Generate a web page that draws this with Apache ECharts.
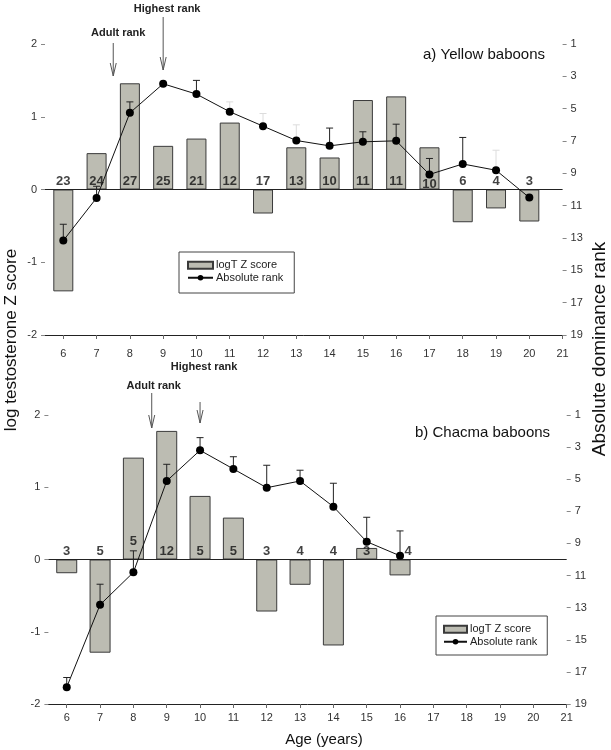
<!DOCTYPE html>
<html>
<head>
<meta charset="utf-8">
<script src="https://cdn.jsdelivr.net/npm/echarts@6/dist/echarts.min.js"></script>
<style>
html,body{margin:0;padding:0;background:#fff;}
#c{width:611px;height:750px;}
</style>
</head>
<body>
<div id="c"></div>
<script>
// ---- Data ----
const X_TICKS = [6,7,8,9,10,11,12,13,14,15,16,17,18,19,20,21];
const Z_TICKS = [-2,-1,0,1,2];
const RANK_TICKS = [1,3,5,7,9,11,13,15,17,19];

// a) Yellow baboons
const AGE_A = [6,7,8,9,10,11,12,13,14,15,16,17,18,19,20];
const Z_A = [-1.40, 0.50, 1.46, 0.60, 0.70, 0.92, -0.33, 0.58, 0.44, 1.23, 1.28, 0.58, -0.45, -0.26, -0.44];
const RANK_A = [13.16, 10.52, 5.26, 3.46, 4.10, 5.19, 6.08, 6.97, 7.30, 7.05, 6.99, 9.07, 8.42, 8.81, 10.50];
const ERR_TOP_A = [12.15, 9.8, 4.58, null, 3.25, null, null, null, 6.2, 6.43, 5.96, 8.08, 6.78, null, null];
const ERR_TOP_FAINT_A = [null, null, null, null, null, 4.58, 5.3, 6.0, null, null, null, null, null, 7.57, null];
const N_A = [23,24,27,25,21,12,17,13,10,11,11,10,6,4,3];

// b) Chacma baboons
const AGE_B = [6,7,8,9,10,11,12,13,14,15,16];
const Z_B = [-0.19, -1.29, 1.41, 1.78, 0.88, 0.58, -0.72, -0.35, -1.19, 0.16, -0.22];
const RANK_B = [17.95, 12.82, 10.80, 5.11, 3.20, 4.36, 5.53, 5.11, 6.71, 8.89, 9.77];
const ERR_TOP_B = [17.35, 11.54, 9.46, 4.07, 2.41, 3.60, 4.13, 4.44, 5.25, 7.37, 8.22];
const N_B = [3,5,5,12,5,5,3,4,4,3,4];

// ---- Style ----
const FONT = "'Liberation Sans', Arial, sans-serif";
const TICK_FONT = "'Liberation Sans Narrow', 'Arial Narrow', 'Liberation Sans', Arial, sans-serif";
const BAR_FILL = '#bcbcb2';
const BAR_EDGE = '#3a3a3a';

const chart = echarts.init(document.getElementById('c'), null, {renderer: 'canvas'});

function xAxis(gi, margin) {
  return {
    type: 'value', gridIndex: gi, min: 5.45, max: 21,
    axisLine: {onZero: false, lineStyle: {color: '#222', width: 1}},
    axisTick: {show: true, customValues: X_TICKS, length: 4, lineStyle: {color: '#666'}},
    axisLabel: {customValues: X_TICKS, margin: margin, fontSize: 11, color: '#333', fontFamily: TICK_FONT},
    splitLine: {show: false}
  };
}
function zAxis(gi) {
  return {
    type: 'value', gridIndex: gi, min: -2, max: 2, interval: 1,
    axisLine: {show: false},
    axisTick: {show: true, length: 4, lineStyle: {color: '#888'}},
    axisLabel: {customValues: Z_TICKS, margin: 8, fontSize: 11, color: '#333', fontFamily: TICK_FONT},
    splitLine: {show: false}
  };
}
function rankAxis(gi) {
  return {
    type: 'value', gridIndex: gi, position: 'right', inverse: true, min: 1, max: 19, interval: 2,
    axisLine: {show: false},
    axisTick: {show: true, customValues: RANK_TICKS, length: 4, lineStyle: {color: '#888'}},
    axisLabel: {customValues: RANK_TICKS, margin: 8, fontSize: 11, color: '#333', fontFamily: TICK_FONT},
    splitLine: {show: false}
  };
}

function errRender(color, half) {
  return function (params, api) {
    const x = api.value(0), r = api.value(1), t = api.value(2);
    const p1 = api.coord([x, r]);
    const p2 = api.coord([x, t]);
    return {
      type: 'group',
      children: [
        {type: 'line', shape: {x1: p1[0], y1: p1[1], x2: p2[0], y2: p2[1]}, style: {stroke: color, lineWidth: 1}},
        {type: 'line', shape: {x1: p2[0] - half, y1: p2[1], x2: p2[0] + half, y2: p2[1]}, style: {stroke: color, lineWidth: 1}}
      ]
    };
  };
}
function errData(ages, ranks, tops) {
  const out = [];
  ages.forEach((a, i) => { if (tops[i] != null) out.push([a, ranks[i], tops[i]]); });
  return out;
}

function panelSeries(gi, ages, z, rank, tops, faintTops, n, barW, labelOffsets) {
  const xi = gi, zi = gi * 2, ri = gi * 2 + 1;
  const s = [];
  s.push({
    type: 'bar', name: 'logT Z score', xAxisIndex: xi, yAxisIndex: zi,
    data: ages.map((a, i) => [a, z[i]]),
    barWidth: barW,
    itemStyle: {color: BAR_FILL, borderColor: BAR_EDGE, borderWidth: 1},
    markLine: {
      silent: true, symbol: 'none', label: {show: false},
      lineStyle: {color: '#222', width: 1, type: 'solid'},
      data: [{yAxis: 0}]
    },
    z: 2
  });
  if (faintTops) {
    s.push({
      type: 'custom', xAxisIndex: xi, yAxisIndex: ri, silent: true,
      data: errData(ages, rank, faintTops), renderItem: errRender('#dcdcdc', 3.5), z: 3
    });
  }
  s.push({
    type: 'custom', xAxisIndex: xi, yAxisIndex: ri, silent: true,
    data: errData(ages, rank, tops), renderItem: errRender('#222', 3.5), z: 3
  });
  s.push({
    type: 'line', name: 'Absolute rank', xAxisIndex: xi, yAxisIndex: ri,
    data: ages.map((a, i) => [a, rank[i]]),
    symbol: 'circle', symbolSize: 8, showSymbol: true,
    lineStyle: {color: '#111', width: 1},
    itemStyle: {color: '#000'},
    z: 5
  });
  s.push({
    type: 'scatter', xAxisIndex: xi, yAxisIndex: zi, silent: true, symbolSize: 0,
    data: ages.map((a, i) => {
      const item = {value: [a, 0]};
      if (labelOffsets[i]) item.label = {offset: labelOffsets[i]};
      return item;
    }),
    label: {
      show: true, position: 'top', distance: 2,
      formatter: p => String(n[p.dataIndex]),
      fontFamily: FONT, fontWeight: 'bold', fontSize: 13, color: '#111'
    },
    z: 6
  });
  return s;
}

const offsA = {11: [0, 3]};
const offsB = {2: [0, -10], 10: [8, 0]};

const option = {
  animation: false,
  backgroundColor: '#fff',
  textStyle: {fontFamily: FONT},
  grid: [
    {left: 45, right: 48.4, top: 44, height: 291},
    {left: 48.4, right: 44.3, top: 415, height: 289}
  ],
  xAxis: [xAxis(0, 13), xAxis(1, 8)],
  yAxis: [zAxis(0), rankAxis(0), zAxis(1), rankAxis(1)],
  title: [
    {text: 'a) Yellow baboons', left: 423, top: 47, padding: 0,
     textStyle: {fontSize: 15, fontWeight: 'normal', color: '#111', fontFamily: FONT}},
    {text: 'b) Chacma baboons', left: 415, top: 425, padding: 0,
     textStyle: {fontSize: 15, fontWeight: 'normal', color: '#111', fontFamily: FONT}}
  ],
  legend: [
    {
      left: 179, top: 252, orient: 'vertical', itemGap: 0, itemWidth: 25, itemHeight: 7,
      padding: [7, 11, 9, 8], borderColor: '#444', borderWidth: 1, selectedMode: false,
      data: [{name: 'logT Z score', icon: 'rect'}, {name: 'Absolute rank'}],
      textStyle: {fontSize: 11, color: '#222', lineHeight: 12.5, fontFamily: FONT, padding: [0, 0, 0, -2]}
    },
    {
      left: 436, top: 616, orient: 'vertical', itemGap: 0, itemWidth: 23, itemHeight: 7,
      padding: [7, 10, 7, 7], borderColor: '#444', borderWidth: 1, selectedMode: false,
      data: [{name: 'logT Z score', icon: 'rect'}, {name: 'Absolute rank'}],
      textStyle: {fontSize: 11, color: '#222', lineHeight: 12.5, fontFamily: FONT, padding: [0, 0, 0, -2]}
    }
  ],
  series: [].concat(
    panelSeries(0, AGE_A, Z_A, RANK_A, ERR_TOP_A, ERR_TOP_FAINT_A, N_A, 20, AGE_A.map((a, i) => offsA[i])),
    panelSeries(1, AGE_B, Z_B, RANK_B, ERR_TOP_B, null, N_B, 21, AGE_B.map((a, i) => offsB[i]))
  )
};
chart.setOption(option);

// ---- Annotations (arrows, axis titles) ----
function arrowGraphics(gi, age, yTop, yBot) {
  const x = chart.convertToPixel({xAxisIndex: gi}, age);
  const st = {stroke: '#555', lineWidth: 1};
  return [
    {type: 'line', shape: {x1: x, y1: yTop, x2: x, y2: yBot}, style: st, silent: true},
    {type: 'line', shape: {x1: x - 3, y1: yBot - 13, x2: x, y2: yBot}, style: st, silent: true},
    {type: 'line', shape: {x1: x + 3, y1: yBot - 13, x2: x, y2: yBot}, style: st, silent: true}
  ];
}
function annText(gi, age, dx, y, text) {
  const x = chart.convertToPixel({xAxisIndex: gi}, age) + dx;
  return {type: 'text', x: x, y: y, silent: true,
    style: {text: text, fontSize: 11, fontWeight: 'bold', fill: '#222', fontFamily: FONT,
      textAlign: 'center', textVerticalAlign: 'middle'}};
}
const g = [].concat(
  arrowGraphics(0, 7.5, 43, 76),
  arrowGraphics(0, 9, 17, 70),
  [annText(0, 7.5, 5, 33, 'Adult rank'), annText(0, 9, 4, 9, 'Highest rank')],
  arrowGraphics(1, 8.55, 393, 428),
  arrowGraphics(1, 10, 402, 423),
  [annText(1, 8.55, 2, 386, 'Adult rank'), annText(1, 10, 4, 367, 'Highest rank')],
  [
    {type: 'text', x: 11, y: 340, rotation: Math.PI / 2, silent: true,
     style: {text: 'log testosterone Z score', fontSize: 17, fill: '#111', fontFamily: FONT,
       textAlign: 'center', textVerticalAlign: 'middle'}},
    {type: 'text', x: 600, y: 349, rotation: Math.PI / 2, silent: true,
     style: {text: 'Absolute dominance rank', fontSize: 19, fill: '#111', fontFamily: FONT,
       textAlign: 'center', textVerticalAlign: 'middle'}},
    {type: 'text', x: 324, y: 740, silent: true,
     style: {text: 'Age (years)', fontSize: 15, fill: '#111', fontFamily: FONT,
       textAlign: 'center', textVerticalAlign: 'middle'}}
  ]
);
chart.setOption({graphic: g});
</script>
</body>
</html>
